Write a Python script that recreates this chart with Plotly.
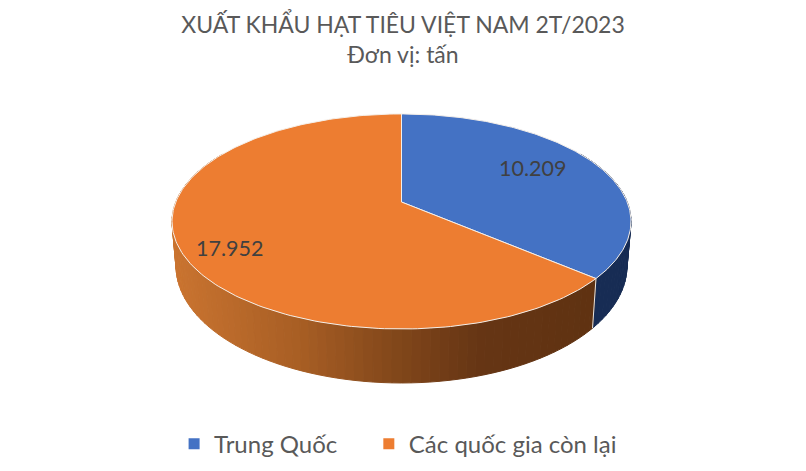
import numpy as np
import plotly.graph_objects as go

categories = ["Trung Quốc", "Các quốc gia còn lại"]
values = [10209, 17952]
value_labels = ["10.209", "17.952"]
colors = ["#4472C4", "#ED7D31"]

title_text = "XUẤT KHẨU HẠT TIÊU VIỆT NAM 2T/2023<br>Đơn vị: tấn"
font_name = "Lato"

# pie projection, in page pixels
CX = 401.5
CY_TOP = 202
CY_BOTTOM = 245
TILT = -0.181


def rim(theta, bottom=False):
    # theta runs clockwise from 12 o'clock
    u, v = np.sin(theta), -np.cos(theta)
    d = 1 + TILT * v
    if bottom:
        return CX + 221.7 * u / d, CY_BOTTOM + 113 * v / d
    return CX + 225.7 * u / d, CY_TOP + 104 * v / d


def orange_side(x):
    stops_x = [175, 300, 400, 480, 600]
    r = np.interp(x, stops_x, [0xCA, 0xA8, 0x80, 0x66, 0x5F])
    g = np.interp(x, stops_x, [0x74, 0x5E, 0x46, 0x35, 0x32])
    b = np.interp(x, stops_x, [0x30, 0x24, 0x1A, 0x14, 0x11])
    return f"rgb({r:.0f},{g:.0f},{b:.0f})"


fig = go.Figure()

fractions = np.array(values) / sum(values)
split = 2 * np.pi * fractions[0]

# side wall, strips painted back to front
edges = np.radians(np.arange(60, 300.1, 2.0))
edges = np.sort(np.append(edges, split))
strips = list(zip(edges[:-1], edges[1:]))
strips.sort(key=lambda s: np.cos((s[0] + s[1]) / 2), reverse=True)
for a, b in strips:
    th = np.linspace(a, b, 3)
    xt, yt = rim(th)
    xb, yb = rim(th, bottom=True)
    xs = np.concatenate([xt, xb[::-1], xt[:1]])
    ys = np.concatenate([yt, yb[::-1], yt[:1]])
    col = "#172C54" if b <= split + 1e-9 else orange_side(xs.mean())
    fig.add_trace(go.Scatter(x=xs, y=ys, mode="lines", fill="toself", fillcolor=col,
                             line=dict(color=col, width=1), hoverinfo="skip", showlegend=False))

# white edge where the two slices meet on the wall
xt, yt = rim(split)
xb, yb = rim(split, bottom=True)
fig.add_trace(go.Scatter(x=[xt, xb], y=[yt, yb], mode="lines", line=dict(color="#E8E4DF", width=1),
                         hoverinfo="skip", showlegend=False))

# top faces
starts = [0, split]
ends = [split, 2 * np.pi]
for start, end, col in zip(starts, ends, colors):
    th = np.linspace(start, end, 200)
    xt, yt = rim(th)
    xs = np.concatenate([[CX], xt, [CX]])
    ys = np.concatenate([[CY_TOP], yt, [CY_TOP]])
    fig.add_trace(go.Scatter(x=xs, y=ys, mode="lines", fill="toself", fillcolor=col,
                             line=dict(color="#F5EFE9", width=1), hoverinfo="skip", showlegend=False))

# legend entries, one legend each so the gap can match
legend_refs = ["legend", "legend2"]
for name, col, ref in zip(categories, colors, legend_refs):
    fig.add_trace(go.Scatter(x=[None], y=[None], mode="markers", name=name, legend=ref, showlegend=True,
                             marker=dict(symbol="square", size=11, color=col)))

label_x = [532, 229]
label_y = [168, 248]
for txt, lx, ly in zip(value_labels, label_x, label_y):
    fig.add_annotation(x=lx, y=ly, text=txt, showarrow=False,
                       font=dict(family=font_name, size=21.5, color="#404040"))

legend_font = dict(family=font_name, size=24, color="#595959")
fig.update_layout(
    width=806,
    height=471,
    margin=dict(l=0, r=0, t=0, b=0),
    paper_bgcolor="white",
    plot_bgcolor="white",
    title=dict(text=title_text, x=0.5, xanchor="center", y=0.93, yanchor="middle",
               font=dict(family=font_name, size=23, color="#595959")),
    legend=dict(x=0.216, xanchor="left", y=0.057, yanchor="middle",
                font=legend_font, bgcolor="rgba(0,0,0,0)"),
    legend2=dict(x=0.4576, xanchor="left", y=0.057, yanchor="middle",
                 font=legend_font, bgcolor="rgba(0,0,0,0)"),
    xaxis=dict(range=[0, 806], visible=False, fixedrange=True),
    yaxis=dict(range=[471, 0], visible=False, fixedrange=True),
)

fig.write_html("out.html", config={"displayModeBar": False},
               post_script="document.body.style.margin='0';")
